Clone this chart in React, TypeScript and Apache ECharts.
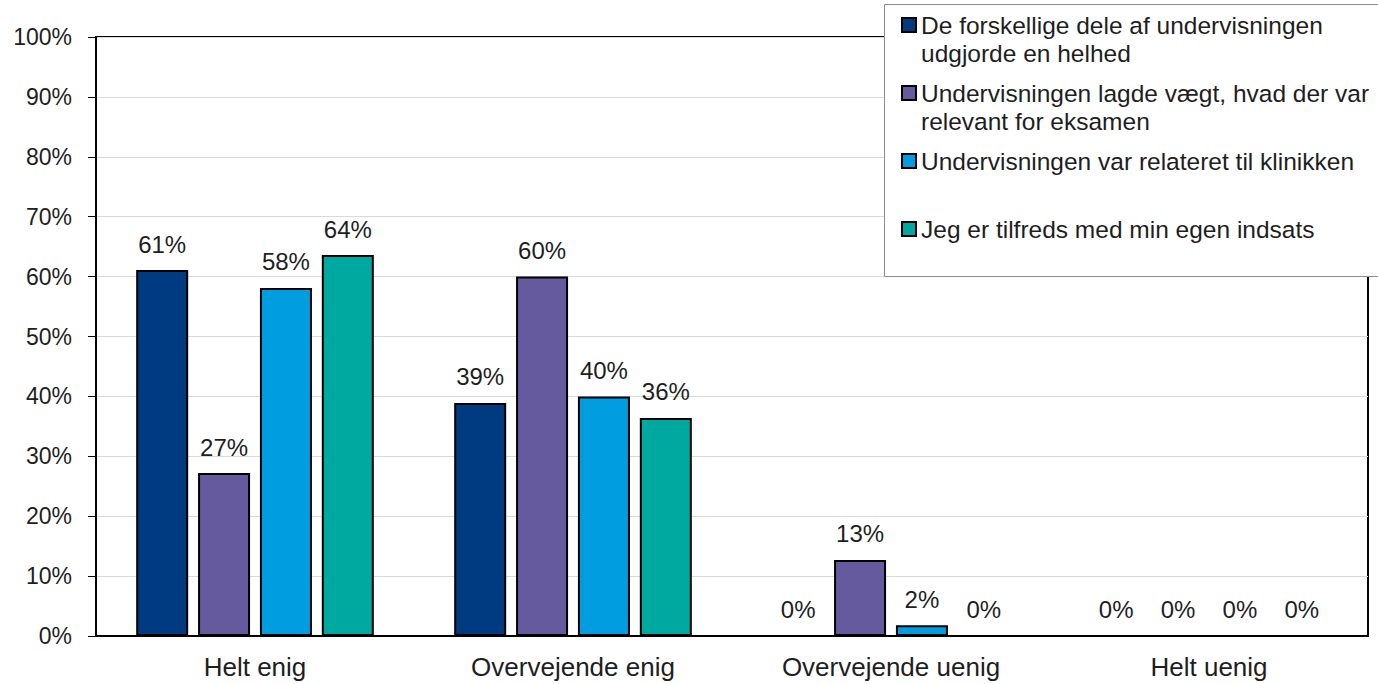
import React, { useEffect, useRef } from "react";
import * as echarts from "echarts";

const categories = ["Helt enig", "Overvejende enig", "Overvejende uenig", "Helt uenig"];
const seriesNames = [
  "De forskellige dele af undervisningen udgjorde en helhed",
  "Undervisningen lagde vægt, hvad der var relevant for eksamen",
  "Undervisningen var relateret til klinikken",
  "Jeg er tilfreds med min egen indsats",
];
// Wrapped legend text: a blank first line keeps the marker level with the first text line
const legendLabels = [
  " \nDe forskellige dele af undervisningen\nudgjorde en helhed",
  " \nUndervisningen lagde vægt, hvad der var\nrelevant for eksamen",
  " \nUndervisningen var relateret til klinikken\n ",
  " \nJeg er tilfreds med min egen indsats\n ",
];
const seriesColors = ["#003A80", "#655A9E", "#009EE0", "#00A99F"];
const helhedValues = [61.1, 38.9, 0, 0];
const eksamenValues = [27.2, 60.0, 12.7, 0];
const klinikValues = [58.1, 40.0, 1.8, 0];
const indsatsValues = [63.6, 36.4, 0, 0];
const allValues = [helhedValues, eksamenValues, klinikValues, indsatsValues];

const FONT = "Liberation Sans";
const TEXT = "#1e1e1e";

export default function App() {
  const ref = useRef<HTMLDivElement>(null);
  useEffect(() => {
    if (!ref.current) return;
    const chart = echarts.init(ref.current, null, { renderer: "svg" });
    chart.setOption({
      animation: false,
      backgroundColor: "#ffffff",
      textStyle: { fontFamily: FONT },
      grid: {
        left: 96,
        top: 37,
        right: 10,
        bottom: 48,
        show: true,
        borderColor: "#000",
        borderWidth: 2,
        backgroundColor: "transparent",
      },
      legend: {
        data: seriesNames,
        orient: "vertical",
        left: 901,
        top: -17,
        padding: 0,
        itemWidth: 14,
        itemHeight: 14,
        itemGap: -16,
        icon: "rect",
        selectedMode: false,
        z: 200,
        itemStyle: { borderColor: "#000", borderWidth: 2 },
        formatter: (name: string) => legendLabels[seriesNames.indexOf(name)],
        textStyle: {
          fontFamily: FONT,
          fontSize: 24.5,
          color: TEXT,
          lineHeight: 28,
        },
      },
      graphic: [
        {
          type: "rect",
          z: 100,
          shape: { x: 884.5, y: 4.5, width: 520, height: 272 },
          style: { fill: "#ffffff", stroke: "#8c8c8c", lineWidth: 1 },
        },
      ],
      xAxis: {
        type: "category",
        data: categories,
        axisLine: { show: true, lineStyle: { color: "#000", width: 2 } },
        axisTick: { show: false },
        axisLabel: { fontFamily: FONT, fontSize: 26, color: TEXT, margin: 18 },
      },
      yAxis: {
        type: "value",
        min: 0,
        max: 100,
        interval: 10,
        axisLine: { show: true, lineStyle: { color: "#000", width: 2 } },
        axisTick: { show: true, length: 8, lineStyle: { color: "#000", width: 1 } },
        axisLabel: {
          fontFamily: FONT,
          fontSize: 23,
          color: TEXT,
          margin: 24,
          formatter: "{value}%",
        },
        splitLine: { show: true, lineStyle: { color: "#d9d9d9", width: 1 } },
      },
      series: seriesNames.map((name, i) => ({
        name,
        type: "bar",
        data: allValues[i],
        barWidth: 52,
        barGap: "19%",
        itemStyle: { color: seriesColors[i], borderColor: "#000", borderWidth: 2 },
        label: {
          show: true,
          position: "top",
          distance: 14,
          fontFamily: FONT,
          fontSize: 24,
          color: TEXT,
          formatter: (p: any) => Math.round(p.value) + "%",
        },
      })),
    });
    return () => chart.dispose();
  }, []);
  return (
    <div
      ref={ref}
      style={{ position: "absolute", left: 0, top: 0, width: 1378, height: 684 }}
    />
  );
}
